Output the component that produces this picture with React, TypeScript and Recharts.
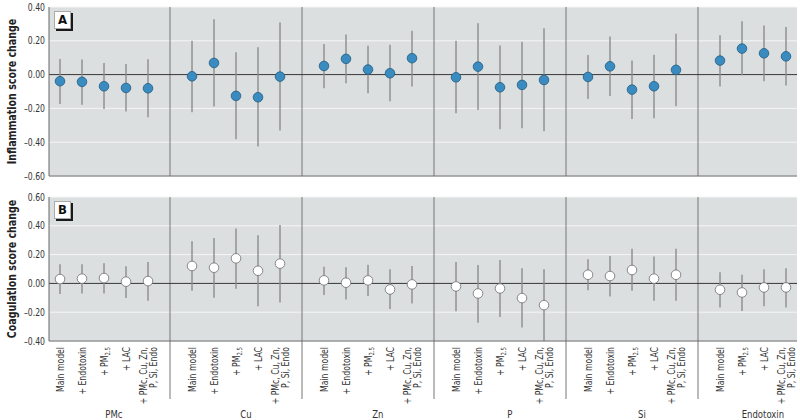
import React from 'react'
import {
  ScatterChart, Scatter, XAxis, YAxis, CartesianGrid, ErrorBar, ReferenceLine,
} from 'recharts'

// ── Data ──────────────────────────────────────────────
const groups = ['PMc', 'Cu', 'Zn', 'P', 'Si', 'Endotoxin']
const modelsFull = ['Main model', '+ Endotoxin', '+ PM2.5', '+ LAC', '+ PMc, Cu, Zn, P, Si, Endo']
const modelsEndo = ['Main model', '+ PM2.5', '+ LAC', '+ PMc, Cu, Zn, P, Si, Endo']

// panel A – inflammation score change (estimate, lower, upper)
const inflEst = [
  [-0.039, -0.043, -0.069, -0.079, -0.081],
  [-0.010, 0.069, -0.126, -0.134, -0.012],
  [0.051, 0.093, 0.030, 0.008, 0.097],
  [-0.016, 0.047, -0.075, -0.061, -0.032],
  [-0.014, 0.049, -0.089, -0.069, 0.028],
  [0.083, 0.154, 0.126, 0.108],
]
const inflLow = [
  [-0.174, -0.178, -0.203, -0.219, -0.252],
  [-0.223, -0.189, -0.383, -0.426, -0.331],
  [-0.081, -0.051, -0.110, -0.158, -0.071],
  [-0.229, -0.209, -0.323, -0.318, -0.335],
  [-0.144, -0.126, -0.262, -0.258, -0.187],
  [-0.071, -0.004, -0.039, -0.065],
]
const inflHigh = [
  [0.093, 0.089, 0.069, 0.063, 0.091],
  [0.201, 0.327, 0.132, 0.162, 0.308],
  [0.181, 0.237, 0.170, 0.176, 0.260],
  [0.201, 0.304, 0.172, 0.195, 0.274],
  [0.116, 0.225, 0.083, 0.118, 0.241],
  [0.233, 0.316, 0.290, 0.282],
]

// panel B – coagulation score change
const coagEst = [
  [0.030, 0.033, 0.037, 0.012, 0.016],
  [0.121, 0.109, 0.174, 0.088, 0.137],
  [0.021, 0.005, 0.021, -0.042, -0.007],
  [-0.021, -0.070, -0.035, -0.102, -0.151],
  [0.060, 0.051, 0.093, 0.033, 0.060],
  [-0.044, -0.063, -0.028, -0.028],
]
const coagLow = [
  [-0.074, -0.070, -0.070, -0.102, -0.121],
  [-0.051, -0.100, -0.037, -0.158, -0.133],
  [-0.081, -0.112, -0.088, -0.177, -0.140],
  [-0.193, -0.274, -0.233, -0.307, -0.400],
  [-0.047, -0.091, -0.051, -0.121, -0.121],
  [-0.167, -0.191, -0.158, -0.167],
]
const coagHigh = [
  [0.133, 0.133, 0.140, 0.119, 0.149],
  [0.293, 0.316, 0.381, 0.335, 0.405],
  [0.116, 0.112, 0.130, 0.098, 0.121],
  [0.149, 0.128, 0.163, 0.105, 0.098],
  [0.167, 0.191, 0.240, 0.186, 0.240],
  [0.077, 0.060, 0.098, 0.105],
]

const inflTicks = [-0.6, -0.4, -0.2, 0, 0.2, 0.4]
const coagTicks = [-0.4, -0.2, 0, 0.2, 0.4, 0.6]

// ── Layout helpers ────────────────────────────────────
const SLOT = 6
const modelsOf = (gi: number) => (gi === groups.length - 1 ? modelsEndo : modelsFull)
const dividers = groups.slice(1).map((_, i) => (i + 1) * SLOT)
const xDomain = [0.5, (groups.length - 1) * SLOT + modelsEndo.length + 0.5]

const modelLabels: Record<number, string> = {}
const groupLabels: Record<string, string> = {}
groups.forEach((g, gi) => {
  const ms = modelsOf(gi)
  ms.forEach((m, mi) => { modelLabels[gi * SLOT + mi + 1] = m })
  // group caption sits a bit right of the middle point, never on a model tick
  groupLabels[String(gi * SLOT + (ms.length + 1) / 2 + 0.45)] = g
})
const xTicks = [
  ...Object.keys(modelLabels).map(Number),
  ...dividers,
  ...Object.keys(groupLabels).map(Number),
]

const build = (est: number[][], lo: number[][], hi: number[][]) =>
  groups.flatMap((_, gi) => est[gi].map((v, mi) => ({
    x: gi * SLOT + mi + 1,
    y: v,
    err: [v - lo[gi][mi], hi[gi][mi] - v],
  })))

const inflRows = build(inflEst, inflLow, inflHigh)
const coagRows = build(coagEst, coagLow, coagHigh)

const FONT = "'Liberation Sans Narrow', 'DejaVu Sans Condensed', 'Arial Narrow', sans-serif"
const SQUEEZE = 0.86 // fake condensed face
const fmt = (v: number) => (v < -1e-9 ? '\u2013' : '') + Math.abs(v).toFixed(2)

// ── Ticks ─────────────────────────────────────────────
const RotLabel = ({ x, y, text }: { x: number; y: number; text: string }) => {
  const parts = text.split('PM2.5')
  return (
    <g transform={`translate(${x}, ${y}) rotate(-90) scale(${SQUEEZE}, 1)`}>
      <text x={0} y={0} textAnchor="end" dy="0.35em" fontSize={10} fill="#333" fontFamily={FONT}>
        {parts.length > 1 ? (
          <>
            {parts[0]}PM<tspan fontSize={7} dy={2}>2.5</tspan>
          </>
        ) : text}
      </text>
    </g>
  )
}

const ModelTick = ({ x, y, payload }: any) => {
  const v = payload.value
  if (dividers.includes(v)) {
    return <line x1={x} x2={x} y1={y} y2={y + 58} stroke="#777" strokeWidth={1} />
  }
  if (groupLabels[String(v)]) {
    return (
      <g transform={`translate(${x}, ${y + 77}) scale(${SQUEEZE}, 1)`}>
        <text x={0} y={0} textAnchor="middle" fontSize={11} fill="#333" fontFamily={FONT}>
          {groupLabels[String(v)]}
        </text>
      </g>
    )
  }
  const label = modelLabels[v]
  if (!label) return null
  const top = y + 6
  if (label.startsWith('+ PMc')) {
    return (
      <g>
        <RotLabel x={x - 5} y={top} text="+ PMc, Cu, Zn," />
        <RotLabel x={x + 5} y={top} text="P, Si, Endo" />
      </g>
    )
  }
  return <RotLabel x={x} y={top} text={label} />
}

const ValueTick = ({ x, y, payload }: any) => (
  <g transform={`translate(${x}, ${y}) scale(${SQUEEZE}, 1)`}>
    <text x={0} y={0} textAnchor="end" dy="0.35em" fontSize={10} fill="#333" fontFamily={FONT}>
      {fmt(payload.value)}
    </text>
  </g>
)

const YLabel = (text: string) => ({ viewBox }: any) => {
  const cx = 12
  const cy = viewBox.y + viewBox.height / 2
  return (
    <g transform={`translate(${cx}, ${cy}) rotate(-90) scale(0.88, 1)`}>
      <text x={0} y={0} textAnchor="middle" dy="0.35em"
        fontSize={12} fontWeight="bold" fill="#222" fontFamily={FONT}>
        {text}
      </text>
    </g>
  )
}

const PanelTag = ({ letter, left, top }: { letter: string; left: number; top: number }) => (
  <div style={{
    position: 'absolute', left, top, width: 15, height: 16, background: '#fff',
    border: '1px solid #aaa', boxShadow: '2px 2px 0 #1a1a1a', fontFamily: FONT,
    fontWeight: 'bold', fontSize: 13, lineHeight: '16px', textAlign: 'center', color: '#111',
  }}>{letter}</div>
)

const dotA = (p: any) => (
  <circle cx={p.cx} cy={p.cy} r={4.8} fill="#3a8cc0" stroke="#1f5a80" strokeWidth={0.8} />
)
const dotB = (p: any) => (
  <circle cx={p.cx} cy={p.cy} r={4.8} fill="#fff" stroke="#7a7a7a" strokeWidth={0.9} />
)

// ── Panel ─────────────────────────────────────────────
function Panel({ rows, ticks, label, height, margin, bottom, dot }: any) {
  return (
    <ScatterChart width={800} height={height} margin={margin}>
      <CartesianGrid vertical={false} stroke="#f5f5f5" fill="#dcdfe0" fillOpacity={1} />
      <XAxis type="number" dataKey="x" domain={xDomain} allowDataOverflow
        ticks={bottom ? xTicks : []} interval={0} tick={bottom ? <ModelTick /> : false}
        tickLine={false} tickSize={0} tickMargin={0} height={bottom ? 79 : 1}
        axisLine={{ stroke: '#666' }} />
      <YAxis type="number" dataKey="y" domain={[ticks[0], ticks[ticks.length - 1]]} ticks={ticks}
        interval={0} allowDataOverflow width={49} tickLine={false} tickSize={0} tickMargin={4}
        tick={<ValueTick />} axisLine={{ stroke: '#666' }}
        label={{ content: YLabel(label) }} />
      {dividers.map(d => (
        <ReferenceLine key={d} x={d} stroke="#777" strokeWidth={1} />
      ))}
      <ReferenceLine y={0} stroke="#333" strokeWidth={1} />
      <Scatter data={rows} shape={dot} isAnimationActive={false}>
        <ErrorBar dataKey="err" direction="y" width={0} stroke="#8c8c8c" strokeWidth={1.4} />
      </Scatter>
    </ScatterChart>
  )
}

export default function App() {
  return (
    <div style={{ position: 'absolute', left: 0, top: 0, width: 800, height: 420, background: '#fff' }}>
      <div style={{ position: 'absolute', left: 0, top: 0 }}>
        <Panel rows={inflRows} ticks={inflTicks} label="Inflammation score change" height={185}
          margin={{ top: 7, right: 3, bottom: 8, left: 0 }} bottom={false} dot={dotA} />
        <PanelTag letter="A" left={54} top={11} />
      </div>
      <div style={{ position: 'absolute', left: 0, top: 185 }}>
        <Panel rows={coagRows} ticks={coagTicks} label="Coagulation score change" height={235}
          margin={{ top: 12, right: 3, bottom: 0, left: 0 }} bottom dot={dotB} />
        <PanelTag letter="B" left={54} top={16} />
      </div>
    </div>
  )
}
